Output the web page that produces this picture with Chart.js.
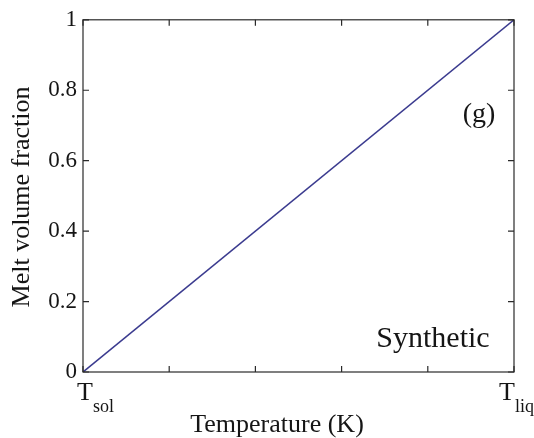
<!DOCTYPE html>
<html>
<head>
<meta charset="utf-8">
<script src="https://cdn.jsdelivr.net/npm/chart.js@4"></script>
<style>
  html, body { margin: 0; padding: 0; background: #fff; }
  #wrap { width: 534px; height: 438px; }
</style>
</head>
<body>
<div id="wrap"><canvas id="meltChart" width="534" height="438"></canvas></div>
<script>
// normalised temperature between T_sol (0) and T_liq (5)
const temperature = [0, 5];
const meltFraction = [0, 1];
const yTicks = [0, 0.2, 0.4, 0.6, 0.8, 1];
const xTicks = [0, 1, 2, 3, 4, 5];
const xTickLabels = [['T', 'sol'], null, null, null, null, ['T', 'liq']];

const serif = '"Liberation Serif", "DejaVu Serif", serif';
const axisColor = '#2a2a2a';
const textColor = '#151515';

// matlab-like box, inward ticks, subscripted x labels, titles and panel notes
const matlabBox = {
    id: 'matlabBox',
    afterDraw(chart) {
        const ctx = chart.ctx;
        const a = chart.chartArea;
        const xs = chart.scales.x;
        const ys = chart.scales.y;
        ctx.save();
        ctx.strokeStyle = axisColor;
        ctx.lineWidth = 1.2;
        ctx.strokeRect(a.left, a.top, a.right - a.left, a.bottom - a.top);
        ctx.beginPath();
        xTicks.forEach(v => {
            const px = xs.getPixelForValue(v);
            ctx.moveTo(px, a.bottom); ctx.lineTo(px, a.bottom - 6);
            ctx.moveTo(px, a.top); ctx.lineTo(px, a.top + 6);
        });
        yTicks.forEach(v => {
            const py = ys.getPixelForValue(v);
            ctx.moveTo(a.left, py); ctx.lineTo(a.left + 6, py);
            ctx.moveTo(a.right, py); ctx.lineTo(a.right - 6, py);
        });
        ctx.stroke();

        ctx.fillStyle = textColor;
        ctx.textBaseline = 'alphabetic';
        ctx.textAlign = 'left';
        xTickLabels.forEach((lab, i) => {
            if (!lab) return;
            const px = xs.getPixelForValue(xTicks[i]);
            ctx.font = '26px ' + serif;
            const w = ctx.measureText(lab[0]).width;
            ctx.font = '18px ' + serif;
            const ws = ctx.measureText(lab[1]).width;
            const x0 = Math.min(px - w / 2 + 2, chart.width - w - ws);
            ctx.font = '26px ' + serif;
            ctx.fillText(lab[0], x0, a.bottom + 28);
            ctx.font = '18px ' + serif;
            ctx.fillText(lab[1], x0 + w, a.bottom + 40);
        });

        // axis titles
        ctx.font = '26px ' + serif;
        ctx.textAlign = 'center';
        ctx.fillText('Temperature (K)', 277, 432);
        ctx.save();
        ctx.translate(29, 197);
        ctx.rotate(-Math.PI / 2);
        ctx.fillText('Melt volume fraction', 0, 0);
        ctx.restore();

        // panel notes
        ctx.font = '28px ' + serif;
        ctx.textBaseline = 'middle';
        ctx.fillText('(g)', xs.getPixelForValue(4.594), ys.getPixelForValue(0.731));
        ctx.font = '30px ' + serif;
        ctx.textBaseline = 'alphabetic';
        ctx.fillText('Synthetic', xs.getPixelForValue(4.06), ys.getPixelForValue(0.07));
        ctx.restore();
    }
};

new Chart(document.getElementById('meltChart').getContext('2d'), {
    type: 'line',
    data: {
        datasets: [{
            label: 'Melt volume fraction',
            data: temperature.map((t, i) => ({ x: t, y: meltFraction[i] })),
            borderColor: '#3b3b8f',
            borderWidth: 1.6,
            pointRadius: 0,
            tension: 0,
        }],
    },
    options: {
        responsive: false,
        animation: false,
        layout: { padding: { top: 19, right: 20, left: 0, bottom: 0 } },
        plugins: {
            legend: { display: false },
            tooltip: { enabled: false },
        },
        scales: {
            x: {
                type: 'linear',
                min: 0,
                max: 5,
                grid: { display: false, drawTicks: false },
                border: { display: false },
                ticks: { display: false, stepSize: 1 },
                afterFit(scale) { scale.height = 66; },
            },
            y: {
                min: 0,
                max: 1,
                grid: { display: false, drawTicks: false },
                border: { display: false },
                afterBuildTicks(scale) { scale.ticks = yTicks.map(v => ({ value: v })); },
                ticks: {
                    color: textColor,
                    font: { family: serif, size: 23 },
                    padding: 6,
                    callback: v => String(v),
                },
                afterFit(scale) { scale.width = 83; },
            },
        },
    },
    plugins: [matlabBox],
});
</script>
</body>
</html>
